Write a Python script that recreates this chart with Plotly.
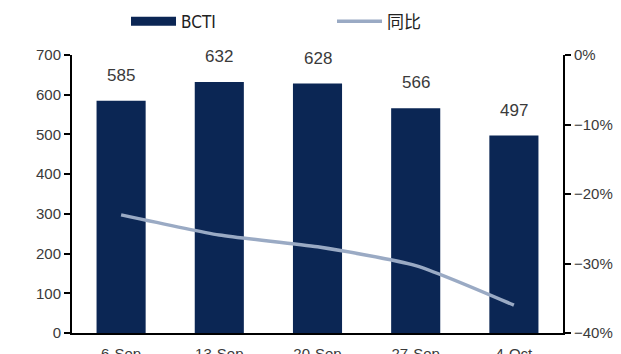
import plotly.graph_objects as go

# Weekly BCTI index and year-on-year change
weeks = ["6-Sep", "13-Sep", "20-Sep", "27-Sep", "4-Oct"]
bcti = [585, 632, 628, 566, 497]
yoy = [-0.230, -0.259, -0.276, -0.303, -0.360]

y_ticks = [0, 100, 200, 300, 400, 500, 600, 700]
y2_ticks = [-0.4, -0.3, -0.2, -0.1, 0.0]

NAVY = "#0b2654"
GREY_BLUE = "#9aaac4"
TEXT = "#3a3a3a"
BASE_FONT = "Liberation Sans, Arial, sans-serif"

fig = go.Figure()

fig.add_trace(go.Bar(
    x=weeks, y=bcti, marker=dict(color=NAVY, line=dict(width=0)),
    width=0.5, showlegend=False, hoverinfo="x+y",
))

# legend entries
fig.add_trace(go.Scatter(
    x=[None], y=[None], mode="lines", name="BCTI",
    line=dict(color=NAVY, width=9),
))
fig.add_trace(go.Scatter(
    x=weeks, y=yoy, mode="lines", name="同比", yaxis="y2",
    line=dict(color=GREY_BLUE, width=3.5, shape="spline", smoothing=0.6),
))

# value labels above each bar
for w, v in zip(weeks, bcti):
    fig.add_annotation(
        x=w, y=v, text=str(v), showarrow=False, yanchor="bottom",
        yshift=14, font=dict(size=17, color=TEXT, family=BASE_FONT),
    )

fig.update_layout(
    width=621, height=354,
    margin=dict(l=72, r=58, t=55, b=21, autoexpand=False),
    paper_bgcolor="white", plot_bgcolor="white",
    font=dict(family=BASE_FONT, color=TEXT, size=15),
    showlegend=True,
    legend=dict(
        orientation="h", x=0.11, xanchor="left", y=1.12, yanchor="middle",
        entrywidth=146,
        font=dict(size=17, family="DejaVu Sans Condensed, Noto Sans CJK SC, sans-serif",
                  color="#222"),
        itemwidth=45, bgcolor="rgba(0,0,0,0)",
    ),
    bargap=0.5,
    xaxis=dict(
        range=[-0.5, 4.5], showline=True, linecolor="black", linewidth=2,
        ticks="", showgrid=False, zeroline=False, automargin=False,
        tickfont=dict(size=15, color=TEXT), ticklabelstandoff=6,
    ),
    yaxis=dict(
        range=[0, 700], tickvals=y_ticks, showline=True, linecolor="black",
        linewidth=2, ticks="outside", ticklen=6, tickwidth=2, tickcolor="black",
        showgrid=False, zeroline=False, automargin=False,
        tickfont=dict(size=15, color=TEXT),
    ),
    yaxis2=dict(
        range=[-0.4, 0], tickvals=y2_ticks, tickformat=".0%", overlaying="y",
        side="right", showline=True, linecolor="black", linewidth=2,
        ticks="outside", ticklen=6, tickwidth=2, tickcolor="black",
        showgrid=False, zeroline=False, automargin=False,
        tickfont=dict(size=15, color=TEXT),
    ),
)

fig.write_html("out.html")
